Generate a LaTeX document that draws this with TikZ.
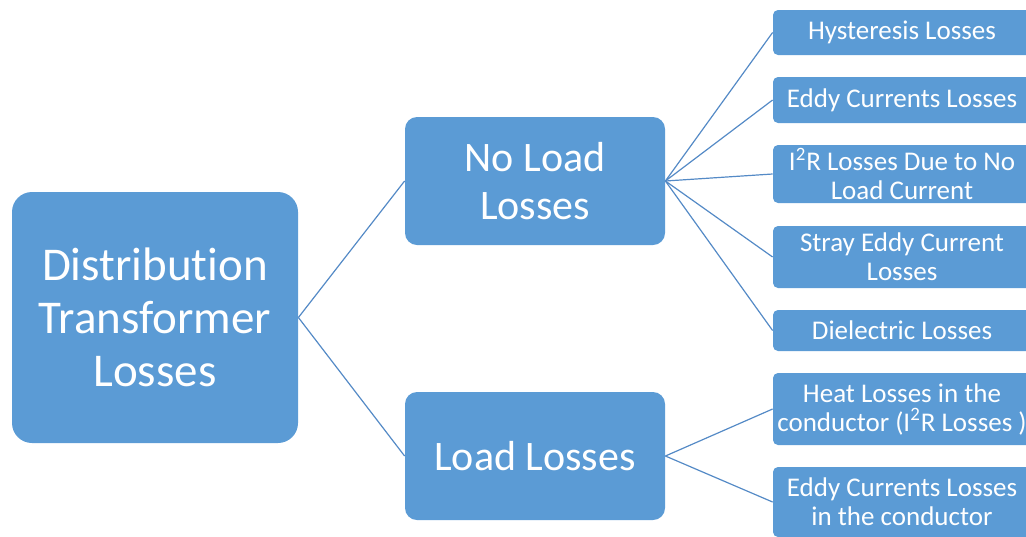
\documentclass[tikz,border=0pt]{standalone}
\usepackage{fontspec}
\setmainfont{Carlito}[Ligatures=NoCommon]
\usepackage{tikz}

\definecolor{boxblue}{RGB}{91,155,213}
\definecolor{lineblue}{RGB}{84,138,198}

\tikzset{
    lossbox/.style={fill=boxblue, text=white, align=center, inner sep=0pt},
    rootbox/.style={lossbox, rounded corners=10pt, minimum width=143pt, minimum height=125.5pt, font=\fontsize{23.5}{26.5}\selectfont},
    groupbox/.style={lossbox, rounded corners=6pt, minimum width=130pt, minimum height=64pt, font=\fontsize{21}{24}\selectfont},
    leafbox/.style={lossbox, rounded corners=2.5pt, minimum width=129pt, font=\fontsize{13.5}{14.5}\selectfont},
    branch/.style={draw=lineblue, line width=0.6pt}
}

\begin{document}
\begin{tikzpicture}[x=0.5pt, y=-0.5pt]
    \useasboundingbox (0,0) rectangle (1026,536);
    \clip (0,0) rectangle (1026,536);

    \node[rootbox] (root) at (155,317.5) {Distribution\\Transformer\\Losses};
    \node[groupbox] (noload) at (535,181) {No Load\\Losses};
    \node[groupbox] (load) at (535,456) {Load Losses};

    % leaves: name / y centre / height / text
    \foreach \n/\y/\h/\t in {
        hyst/32.5/22.5/Hysteresis Losses,
        eddy/100/23/Eddy Currents Losses,
        itwor/174/29/I\textsuperscript{2}R Losses Due to No\\Load Current,
        stray/257/31/Stray Eddy Current\\Losses,
        diel/330.5/20.5/Dielectric Losses,
        heat/409/36/Heat Losses in the\\conductor (I\textsuperscript{2}R Losses ),
        eddycond/502/35/Eddy Currents Losses\\in the conductor}
        \node[leafbox, minimum height=\h pt] (\n) at (902,\y) {\t};

    % Drawing the branches
    \draw[branch] (root.east) -- (noload.west);
    \draw[branch] (root.east) -- (load.west);
    \foreach \n in {hyst,eddy,itwor,stray,diel}
        \draw[branch] (noload.east) -- (\n.west);
    \foreach \n in {heat,eddycond}
        \draw[branch] (load.east) -- (\n.west);
\end{tikzpicture}
\end{document}
